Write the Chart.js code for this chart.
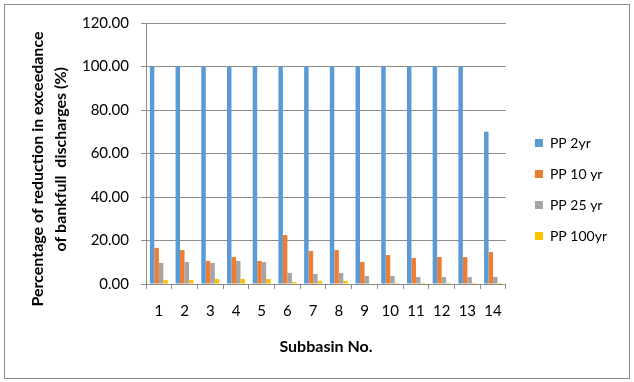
<!DOCTYPE html>
<html>
<head>
<meta charset="utf-8">
<script src="https://cdn.jsdelivr.net/npm/chart.js@4/dist/chart.umd.min.js"></script>
<style>
  html, body { margin: 0; padding: 0; background: #fff; }
  #wrap { position: absolute; left: 0; top: 0; width: 634px; height: 382px; }
  #frame { position: absolute; left: 4px; top: 4px; width: 624px; height: 373px; border: 1px solid #8c8c8c; pointer-events: none; }
</style>
</head>
<body>
<div id="wrap">
  <canvas id="c" width="634" height="382"></canvas>
  <div id="frame"></div>
</div>
<script>
const categories = ['1','2','3','4','5','6','7','8','9','10','11','12','13','14'];
const pp2yr   = [100,100,100,100,100,100,100,100,100,100,100,100,100,70];
const pp10yr  = [16.6,15.6,10.6,12.4,10.6,22.5,15.2,15.6,10.1,13.3,12.0,12.4,12.4,14.7];
const pp25yr  = [9.7,10.1,9.7,10.6,10.1,5.1,4.6,5.1,3.7,3.7,3.2,3.2,3.2,3.2];
const pp100yr = [1.8,1.8,2.3,2.3,2.3,0.9,1.4,1.4,0.0,0.5,0.5,0.5,0.5,0.5];
const seriesNames = ['PP 2yr','PP 10 yr','PP 25 yr','PP 100yr'];
const seriesColors = ['#5B9BD5','#ED7D31','#A5A5A5','#FFC000'];
const yTicks = [0,20,40,60,80,100,120];

const FONT = 'Lato, "Liberation Sans", sans-serif';
const GRID = '#8c8c8c';
const allSeries = [pp2yr, pp10yr, pp25yr, pp100yr];

new Chart(document.getElementById('c'), {
  type: 'bar',
  data: {
    labels: categories,
    datasets: allSeries.map((d, i) => ({
      label: seriesNames[i],
      data: d,
      backgroundColor: seriesColors[i],
      borderWidth: 0,
      categoryPercentage: 0.7,
      barPercentage: 1.0
    }))
  },
  options: {
    responsive: false,
    animation: false,
    layout: { padding: { left: 0, top: 23, right: 17, bottom: 26 } },
    plugins: {
      legend: {
        position: 'right',
        labels: {
          boxWidth: 8, boxHeight: 8, padding: 17,
          color: '#000',
          font: { family: FONT, size: 14 }
        }
      },
      tooltip: { enabled: false }
    },
    scales: {
      x: {
        grid: { display: true, offset: true, drawOnChartArea: false, tickLength: 5, color: GRID },
        border: { display: true, color: GRID },
        ticks: { color: '#000', font: { family: FONT, size: 15 }, padding: 13 },
        title: { display: true, text: 'Subbasin No.', color: '#000', font: { family: FONT, size: 16, weight: 'bold' }, padding: { top: 4, bottom: 0 } },
        afterFit: s => { s.height = 72; }
      },
      y: {
        min: 0, max: 120,
        afterBuildTicks: s => { s.ticks = yTicks.map(v => ({ value: v })); },
        grid: { color: GRID, tickLength: 5 },
        border: { display: true, color: GRID },
        ticks: { color: '#000', font: { family: FONT, size: 15 }, padding: 12, callback: v => Number(v).toFixed(2) },
        title: { display: true, text: ['Percentage of reduction in exceedance        ', 'of bankfull  discharges (%)   '], color: '#000', font: { family: FONT, size: 16, weight: 'bold', lineHeight: 1.4 }, padding: { top: 27, bottom: 4 } },
        afterFit: s => { s.width = 146; }
      },
      gap: {
        type: 'linear', position: 'right', display: true,
        grid: { display: false, drawTicks: false },
        border: { display: false },
        ticks: { display: false },
        afterFit: s => { s.width = 12; }
      }
    }
  }
});
</script>
</body>
</html>
